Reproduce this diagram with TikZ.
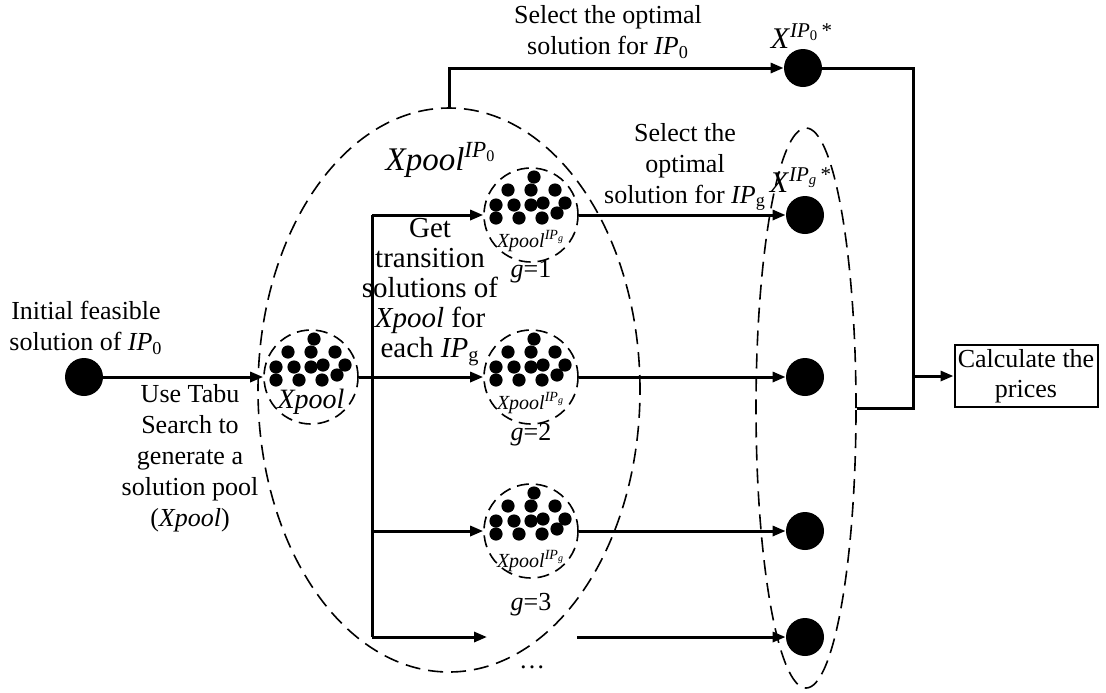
\documentclass[tikz,border=0pt]{standalone}
\usepackage{fontspec}
\setmainfont{Liberation Serif}
\usetikzlibrary{arrows.meta}
\usetikzlibrary{shapes.geometric}
\newcommand{\IPz}{\textit{IP}\textsubscript{0}}
\newcommand{\IPg}{\textit{IP}\textsubscript{g}}
\newcommand{\pooldots}[1]{%
    \foreach \dx/\dy in {3/-38, -23/-25, 0/-25, 24/-25, -35/-10, -17/-10, 0/-10, 12/-12, 34/-12, -35/3, -12/3, 11/3, 26/-2}
        \fill ([shift={(\dx,\dy)}]#1.center) circle (3.3pt);
}
\tikzset{
    flow/.style={line width=1.5pt},
    flowarrow/.style={flow, -{Triangle[length=6.5pt, width=5pt]}},
    soldot/.style={circle, fill, inner sep=0pt, minimum size=19pt},
    pool/.style={circle, draw, line width=0.8pt, dash pattern=on 6pt off 3.5pt, inner sep=0pt, minimum size=47pt},
    group/.style={ellipse, draw, line width=0.8pt, dash pattern=on 7.5pt off 4pt, inner sep=0pt},
    txt/.style={align=center, font=\fontsize{13}{15.5}\selectfont},
    poolname/.style={font=\fontsize{10}{12}\selectfont\itshape},
    calcbox/.style={draw, line width=1pt, align=center, inner sep=1pt, minimum width=71.5pt, minimum height=31pt, font=\fontsize{13}{15}\selectfont}
}
\begin{document}
\begin{tikzpicture}[x=0.5pt, y=-0.5pt]
    \useasboundingbox (0,0) rectangle (1106,692);

    \node[group, minimum width=191pt, minimum height=282pt] (pool-all) at (449,390) {};
    \node[group, minimum width=50pt, minimum height=280pt] (opt-all) at (806,408) {};

    \node[soldot] (init) at (84,377) {};
    \node[txt] (init-lbl) at (86,328) {Initial feasible\\solution of \IPz};
    \node[txt] (tabu-lbl) at (190,458) {Use Tabu\\Search to\\generate a\\solution pool\\(\textit{Xpool})};

    \node[pool] (pool0) at (311,377) {};
    \node[pool] (pool1) at (531,215) {};
    \node[pool] (pool2) at (531,377) {};
    \node[pool] (pool3) at (531,531) {};
    \pooldots{pool0}
    \pooldots{pool1}
    \pooldots{pool2}
    \pooldots{pool3}

    \path (pool0) +(0,25) node[font=\fontsize{14}{16}\selectfont\itshape] (pool0-name) {Xpool};
    \path (pool1) +(0,26) node[poolname] (pool1-name) {Xpool\textsuperscript{IP\textsubscript{g}}}
        +(0,57) node[txt] (g1) {\textit{g}=1};
    \path (pool2) +(0,26) node[poolname] (pool2-name) {Xpool\textsuperscript{IP\textsubscript{g}}}
        +(0,58) node[txt] (g2) {\textit{g}=2};
    \path (pool3) +(0,30) node[poolname] (pool3-name) {Xpool\textsuperscript{IP\textsubscript{g}}}
        +(0,74) node[txt] (g3) {\textit{g}=3}
        +(1,136) node[txt] (gdots) {\dots};

    \node[font=\fontsize{16.5}{18}\selectfont] (all-name) at (441,160) {\textit{Xpool}\textsuperscript{\IPz}};
    \node[txt, font=\fontsize{14.5}{15}\selectfont] (get-lbl) at (430,292) {Get\\transition\\solutions of\\\textit{Xpool} for\\each \IPg};

    \node[soldot] (opt0) at (803,68) {};
    \node[soldot] (opt1) at (805,215) {};
    \node[soldot] (opt2) at (805,377) {};
    \node[soldot] (opt3) at (805,531) {};
    \node[soldot] (opt4) at (805,637) {};
    \node[txt] (sel0-lbl) at (608,32) {Select the optimal\\solution for \IPz};
    \node[txt] (selg-lbl) at (685,167) {Select the\\optimal\\solution for \IPg};
    \node[font=\fontsize{15}{17}\selectfont] (opt0-name) at (802,36) {\textit{X}\textsuperscript{\IPz\,*}};
    \node[font=\fontsize{15}{17}\selectfont] (opt1-name) at (801,180) {\textit{X}\textsuperscript{\textit{IP}\textsubscript{\textit{g}}\,*}};

    \node[calcbox] (calc) at (1026,376) {Calculate the\\prices};

    \coordinate (t1) at (372,215);
    \coordinate (t2) at (372,377);
    \coordinate (t3) at (372,531);
    \coordinate (t4) at (372,637);
    \coordinate (gap-in) at (487,637);
    \coordinate (gap-out) at (577,637);
    \coordinate (join) at (913,408);
    \coordinate (tap) at (join |- calc);

    \draw[flowarrow] (init) -- (pool0);
    \draw[flow] (pool0) -- (t2);
    \draw[flow] (t1) -- (t4);
    \draw[flowarrow] (t1) -- (pool1);
    \draw[flowarrow] (t2) -- (pool2);
    \draw[flowarrow] (t3) -- (pool3);
    \draw[flowarrow] (t4) -- (gap-in);
    \draw[flowarrow] (pool1) -- (opt1);
    \draw[flowarrow] (pool2) -- (opt2);
    \draw[flowarrow] (pool3) -- (opt3);
    \draw[flowarrow] (gap-out) -- (opt4);
    \draw[flowarrow] (pool-all.north) |- (opt0);
    \draw[flow] (opt0) -| (join) -- (opt-all.east);
    \draw[flowarrow] (tap) -- (calc);
\end{tikzpicture}
\end{document}
